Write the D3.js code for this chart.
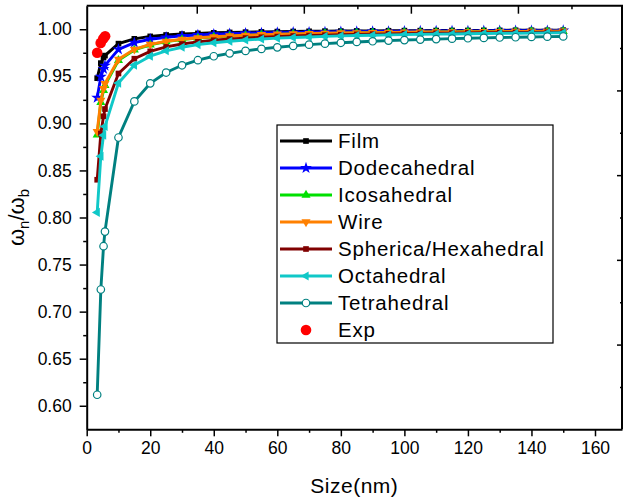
<!DOCTYPE html>
<html>
<head>
<meta charset="utf-8">
<script src="https://cdn.jsdelivr.net/npm/d3@7"></script>
<style>
  body { margin: 0; background: #fff; }
  svg { display: block; font-family: "Liberation Sans", Arial, sans-serif; }
</style>
</head>
<body>
<svg width="623" height="497"></svg>
<script>
// sizes (nm) shared by all model curves
var sizes = [3.3, 4.45, 5.3, 5.75, 10, 15, 20, 25, 30, 35, 40, 45, 50, 55, 60, 65, 70, 75,
  80, 85, 90, 95, 100, 105, 110, 115, 120, 125, 130, 135, 140, 145, 150];

var filmValues = [0.948, 0.964, 0.970, 0.972, 0.9847, 0.9898, 0.9924, 0.9939, 0.9949, 0.9956,
  0.9962, 0.9966, 0.9969, 0.9972, 0.9975, 0.9976, 0.9978, 0.9980, 0.9981, 0.9982, 0.9983,
  0.9984, 0.9985, 0.9985, 0.9986, 0.9987, 0.9987, 0.9988, 0.9988, 0.9989, 0.9989, 0.9989, 0.9990];
var dodecaValues = [0.9272, 0.9495, 0.9579, 0.9614, 0.9786, 0.9857, 0.9893, 0.9914, 0.9929, 0.9939,
  0.9947, 0.9952, 0.9957, 0.9961, 0.9964, 0.9967, 0.9969, 0.9971, 0.9973, 0.9975, 0.9976,
  0.9977, 0.9979, 0.9980, 0.9981, 0.9981, 0.9982, 0.9983, 0.9984, 0.9984, 0.9985, 0.9985, 0.9986];
var icosaValues = [0.8878, 0.9222, 0.935, 0.9404, 0.967, 0.978, 0.9835, 0.9868, 0.989, 0.9906,
  0.9918, 0.9927, 0.9934, 0.994, 0.9945, 0.9949, 0.9953, 0.9956, 0.9959, 0.9961, 0.9963,
  0.9965, 0.9967, 0.9969, 0.997, 0.9971, 0.9973, 0.9974, 0.9975, 0.9976, 0.9976, 0.9977, 0.9978];
var wireValues = [0.8912, 0.9245, 0.937, 0.9422, 0.968, 0.9787, 0.984, 0.9872, 0.9893, 0.9909,
  0.992, 0.9929, 0.9936, 0.9942, 0.9947, 0.9951, 0.9954, 0.9957, 0.996, 0.9962, 0.9964,
  0.9966, 0.9968, 0.997, 0.9971, 0.9972, 0.9973, 0.9974, 0.9975, 0.9976, 0.9977, 0.9978, 0.9979];
var sphericalValues = [0.8401, 0.8892, 0.9075, 0.9152, 0.953, 0.9687, 0.9765, 0.9812, 0.9843, 0.9866,
  0.9883, 0.9896, 0.9906, 0.9915, 0.9922, 0.9928, 0.9933, 0.9937, 0.9941, 0.9945, 0.9948,
  0.9951, 0.9953, 0.9955, 0.9957, 0.9959, 0.9961, 0.9962, 0.9964, 0.9965, 0.9966, 0.9968, 0.9969];
var octaValues = [0.8054, 0.8651, 0.8874, 0.8968, 0.9428, 0.9619, 0.9714, 0.9771, 0.9809, 0.9837,
  0.9857, 0.9873, 0.9886, 0.9896, 0.9905, 0.9912, 0.9918, 0.9924, 0.9929, 0.9933, 0.9936,
  0.994, 0.9943, 0.9946, 0.9948, 0.995, 0.9952, 0.9954, 0.9956, 0.9958, 0.9959, 0.9961, 0.9962];
var tetraValues = [0.6117, 0.7235, 0.7695, 0.785, 0.885, 0.9233, 0.9425, 0.954, 0.9617, 0.9671,
  0.9713, 0.9744, 0.977, 0.9791, 0.9808, 0.9823, 0.9836, 0.9847, 0.9856, 0.9865, 0.9872,
  0.9879, 0.9885, 0.989, 0.9895, 0.99, 0.9904, 0.9908, 0.9912, 0.9915, 0.9918, 0.9921, 0.9923];

// experimental points
var expSizes = [3.3, 4.4, 5.2, 5.8];
var expValues = [0.975, 0.9855, 0.990, 0.9925];

var seriesNames = ["Film", "Dodecahedral", "Icosahedral", "Wire", "Spherica/Hexahedral", "Octahedral", "Tetrahedral"];
var xTicks = [0, 20, 40, 60, 80, 100, 120, 140, 160];
var yTicks = [0.60, 0.65, 0.70, 0.75, 0.80, 0.85, 0.90, 0.95, 1.00];

var svg = d3.select("svg");

// plot frame (window.top is reserved, so prefix everything)
var plotLeft = 86.7, plotRight = 622, plotTop = 5.7, plotBottom = 429.3;

var x = d3.scaleLinear().domain([0, 168.5]).range([plotLeft, plotRight]);
var y = d3.scaleLinear().domain([0.575, 1.025]).range([plotBottom, plotTop]);
// top / right axes of the original layer have their own 5-division scales
var xTop = d3.scaleLinear().domain([0, 5]).range([plotLeft + 3, plotRight + 3]);
var yRight = d3.scaleLinear().domain([0, 5]).range([plotTop, plotBottom]);

var tickFont = function (g) {
  g.selectAll("text")
    .attr("fill", "#000")
    .style("font-size", "17.5px");
  g.selectAll("line").attr("stroke", "#000").attr("stroke-width", 1.5);
  g.select(".domain").attr("stroke", "#000").attr("stroke-width", 2);
};

// minor ticks first
svg.append("g")
  .attr("transform", "translate(0," + plotBottom + ")")
  .call(d3.axisBottom(x).tickValues([10, 30, 50, 70, 90, 110, 130, 150]).tickSize(3.5).tickFormat(""))
  .call(tickFont)
  .select(".domain").remove();

svg.append("g")
  .attr("transform", "translate(" + plotLeft + ",0)")
  .call(d3.axisLeft(y).tickValues([0.625, 0.675, 0.725, 0.775, 0.825, 0.875, 0.925, 0.975]).tickSize(3.5).tickFormat(""))
  .call(tickFont)
  .select(".domain").remove();

// bottom axis
svg.append("g")
  .attr("transform", "translate(0," + plotBottom + ")")
  .call(d3.axisBottom(x).tickValues(xTicks).tickSize(7).tickSizeOuter(0).tickPadding(5).tickFormat(d3.format("d")))
  .call(tickFont);

// left axis
svg.append("g")
  .attr("transform", "translate(" + plotLeft + ",0)")
  .call(d3.axisLeft(y).tickValues(yTicks).tickSize(7).tickSizeOuter(0).tickPadding(8).tickFormat(d3.format(".2f")))
  .call(tickFont);

// top axis, ticks inside
svg.append("line")
  .attr("x1", plotLeft).attr("x2", plotRight + 1).attr("y1", plotTop).attr("y2", plotTop)
  .attr("stroke", "#000").attr("stroke-width", 2);
svg.append("g")
  .attr("transform", "translate(0," + plotTop + ")")
  .call(d3.axisBottom(xTop).tickValues([1, 2, 3, 4]).tickSize(8).tickFormat(""))
  .call(tickFont)
  .select(".domain").remove();
svg.append("g")
  .attr("transform", "translate(0," + plotTop + ")")
  .call(d3.axisBottom(xTop).tickValues([0.5, 1.5, 2.5, 3.5, 4.5]).tickSize(3.5).tickFormat(""))
  .call(tickFont)
  .select(".domain").remove();

// right axis, ticks inside
svg.append("line")
  .attr("x1", plotRight).attr("x2", plotRight).attr("y1", plotTop).attr("y2", plotBottom)
  .attr("stroke", "#000").attr("stroke-width", 2);
svg.append("g")
  .attr("transform", "translate(" + plotRight + ",0)")
  .call(d3.axisLeft(yRight).tickValues([1, 2, 3, 4]).tickSize(5).tickFormat(""))
  .call(tickFont)
  .select(".domain").remove();
svg.append("g")
  .attr("transform", "translate(" + plotRight + ",0)")
  .call(d3.axisLeft(yRight).tickValues([0.5, 1.5, 2.5, 3.5, 4.5]).tickSize(2).tickFormat(""))
  .call(tickFont)
  .select(".domain").remove();

// series table
var seriesValues = [filmValues, dodecaValues, icosaValues, wireValues, sphericalValues, octaValues, tetraValues];
var seriesColors = ["#000000", "#0000ff", "#00e000", "#ff8000", "#800000", "#10c8c8", "#008080"];
var seriesSymbols = [
  { type: d3.symbolSquare, size: 32, rotate: 0 },
  { type: d3.symbolStar, size: 44, rotate: 0 },
  { type: d3.symbolTriangle, size: 36, rotate: 0 },
  { type: d3.symbolTriangle, size: 36, rotate: 180 },
  { type: d3.symbolSquare, size: 32, rotate: 0 },
  { type: d3.symbolTriangle, size: 36, rotate: -90 },
  { type: d3.symbolCircle, size: 44, rotate: 0 }
];

var series = seriesNames.map(function (name, i) {
  return {
    name: name,
    color: seriesColors[i],
    symbol: seriesSymbols[i],
    open: i === 6,
    points: sizes.map(function (s, j) { return [s, seriesValues[i][j]]; })
  };
});

var line = d3.line()
  .x(function (d) { return x(d[0]); })
  .y(function (d) { return y(d[1]); });

function drawMarker(sel, s) {
  sel.attr("d", d3.symbol().type(s.symbol.type).size(s.symbol.size))
    .attr("fill", s.open ? "#fff" : s.color)
    .attr("stroke", s.open ? s.color : "none")
    .attr("stroke-width", 1.2);
}

var plot = svg.append("g");

series.forEach(function (s) {
  var g = plot.append("g");
  g.append("path")
    .datum(s.points)
    .attr("d", line)
    .attr("fill", "none")
    .attr("stroke", s.color)
    .attr("stroke-width", 2.9);
  g.selectAll("path.marker")
    .data(s.points)
    .enter()
    .append("path")
    .attr("class", "marker")
    .attr("transform", function (d) {
      return "translate(" + x(d[0]) + "," + y(d[1]) + ") rotate(" + s.symbol.rotate + ")";
    })
    .call(drawMarker, s);
});

// experiment
plot.append("g")
  .selectAll("circle")
  .data(expSizes)
  .enter()
  .append("circle")
  .attr("cx", function (d) { return x(d); })
  .attr("cy", function (d, i) { return y(expValues[i]); })
  .attr("r", 5.3)
  .attr("fill", "#ff0000");

// legend
var legend = svg.append("g").attr("transform", "translate(277,125)");
legend.append("rect")
  .attr("x", 0).attr("y", 0)
  .attr("width", 276).attr("height", 218)
  .attr("fill", "#fff")
  .attr("stroke", "#000")
  .attr("stroke-width", 1.2);

var items = legend.selectAll(".legend-item")
  .data(series)
  .enter()
  .append("g")
  .attr("class", "legend-item")
  .attr("transform", function (d, i) { return "translate(0," + (16 + i * 27) + ")"; });

items.append("line")
  .attr("x1", 3).attr("x2", 55)
  .attr("stroke", function (d) { return d.color; })
  .attr("stroke-width", 2.9);
items.append("path")
  .attr("transform", function (d) { return "translate(29,0) rotate(" + d.symbol.rotate + ")"; })
  .each(function (d) { d3.select(this).call(drawMarker, d); });
items.append("text")
  .attr("x", 61)
  .attr("dy", "0.36em")
  .style("font-size", "20.5px")
  .style("letter-spacing", "0.8px")
  .text(function (d) { return d.name; });

var expItem = legend.append("g").attr("transform", "translate(0," + (16 + 7 * 27) + ")");
expItem.append("circle").attr("cx", 29).attr("cy", 0).attr("r", 5.3).attr("fill", "#ff0000");
expItem.append("text")
  .attr("x", 61)
  .attr("dy", "0.36em")
  .style("font-size", "20.5px")
  .style("letter-spacing", "0.8px")
  .text("Exp");

// axis titles
svg.append("text")
  .attr("x", (plotLeft + plotRight) / 2)
  .attr("y", 493)
  .attr("text-anchor", "middle")
  .style("font-size", "21px")
  .style("letter-spacing", "0.5px")
  .text("Size(nm)");

var yTitle = svg.append("text")
  .attr("transform", "translate(24," + (plotTop + plotBottom) / 2 + ") rotate(-90)")
  .attr("text-anchor", "middle")
  .style("font-size", "22px");
yTitle.append("tspan").text("ω");
yTitle.append("tspan").attr("dy", 5).style("font-size", "15px").text("n");
yTitle.append("tspan").attr("dy", -5).text("/ω");
yTitle.append("tspan").attr("dy", 5).style("font-size", "15px").text("b");
</script>
</body>
</html>
